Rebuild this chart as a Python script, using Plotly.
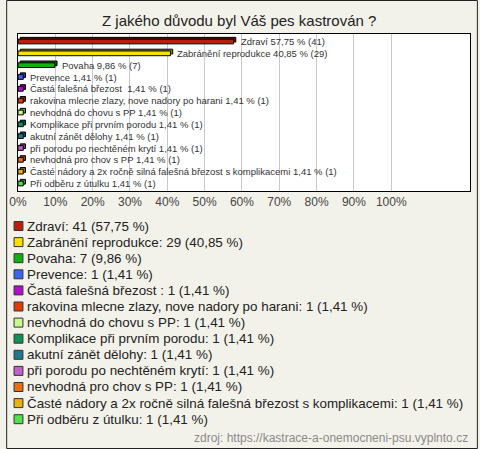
import plotly.graph_objects as go

title = "Z jakého důvodu byl Váš pes kastrován ?"
categories = [
    "Zdraví",
    "Zabránění reprodukce",
    "Povaha",
    "Prevence",
    "Častá falešná březost ",
    "rakovina mlecne zlazy, nove nadory po harani",
    "nevhodná do chovu s PP",
    "Komplikace při prvním porodu",
    "akutní zánět dělohy",
    "při porodu po nechtěném krytí",
    "nevhodná pro chov s PP",
    "Časté nádory a 2x ročně silná falešná březost s komplikacemi",
    "Při odběru z útulku",
]
counts = [41, 29, 7, 1, 1, 1, 1, 1, 1, 1, 1, 1, 1]
percents = [57.75, 40.85, 9.86, 1.41, 1.41, 1.41, 1.41, 1.41, 1.41, 1.41, 1.41, 1.41, 1.41]
colors = [
    "#b8200c", "#f8e000", "#10b010", "#3c64f0", "#b010c8", "#e03c08", "#c8f890",
    "#109058", "#207890", "#c060c8", "#e87010", "#e8b010", "#50e050",
]
tick_values = [0, 10, 20, 30, 40, 50, 60, 70, 80, 90, 100]
tick_labels = ["0%", "10%", "20%", "30%", "40%", "50%", "60%", "70%", "80%", "90%", "100%"]
source_text = "zdroj: https://kastrace-a-onemocneni-psu.vyplnto.cz"

def fmt(v):
    return f"{v:.2f}".replace(".", ",")

def darker(hexcol, k=0.6):
    r, g, b = (int(hexcol[i:i + 2], 16) for i in (1, 3, 5))
    return f"rgb({int(r * k)},{int(g * k)},{int(b * k)})"

bar_labels = [f"{c} {fmt(p)} % ({n})" for c, p, n in zip(categories, percents, counts)]
legend_labels = [f"{c}: {n} ({fmt(p)} %)" for c, p, n in zip(categories, percents, counts)]

W, H = 480, 449
L, R, T, B = 12, 9, 34, 258
pw, ph = W - L - R, H - T - B

def px_x(x):
    return (x - L) / pw

def px_y(y):
    return (H - B - y) / ph

BAR_W = 0.4
DEPTH_X = 0.6     # depth of the 3D look, in axis units (style)
DEPTH_Y = 0.15    # in category units (style)

fig = go.Figure()
# 3D "depth" behind each bar
fig.add_trace(go.Bar(
    x=percents, y=categories, orientation="h", base=DEPTH_X,
    marker=dict(color=[darker(c) for c in colors], line=dict(color="#000000", width=1)),
    width=BAR_W, offset=-BAR_W / 2 - DEPTH_Y,
    cliponaxis=False, hoverinfo="skip", showlegend=False,
))
fig.add_trace(go.Bar(
    x=percents, y=categories, orientation="h",
    marker=dict(color=colors, line=dict(color="#000000", width=1)),
    width=BAR_W, offset=-BAR_W / 2,
    cliponaxis=False, hoverinfo="skip", showlegend=False,
))
fig.update_layout(barmode="overlay")

shapes = []
annotations = []
# bar value labels
for c, p, lab in zip(categories, percents, bar_labels):
    annotations.append(dict(xref="x", yref="y", x=p, y=c, xanchor="left", yanchor="middle",
                            xshift=5, text=lab, showarrow=False,
                            font=dict(family="Liberation Sans, Arial", size=9.5, color="#333333")))
# outer frame
shapes.append(dict(type="rect", xref="paper", yref="paper",
                   x0=px_x(0.5), x1=px_x(478.5), y0=px_y(448.5), y1=px_y(0.5),
                   line=dict(color="#222222", width=1), fillcolor="rgba(0,0,0,0)", layer="below"))
# custom legend
for i, (lab, col) in enumerate(zip(legend_labels, colors)):
    cy = 226 + 16.1 * i
    shapes.append(dict(type="rect", xref="paper", yref="paper",
                       x0=px_x(8), x1=px_x(17), y0=px_y(cy + 4.5), y1=px_y(cy - 4.5),
                       line=dict(color="#333333", width=1), fillcolor=col))
    annotations.append(dict(xref="paper", yref="paper", x=px_x(19), y=px_y(cy),
                            xanchor="left", yanchor="middle", text=lab, showarrow=False,
                            font=dict(family="Liberation Sans, Arial", size=13.4, color="#222222")))
annotations.append(dict(xref="paper", yref="paper", x=px_x(471), y=px_y(438),
                        xanchor="right", yanchor="middle", text=source_text, showarrow=False,
                        font=dict(family="Liberation Sans, Arial", size=12, color="#8a8a8a")))
annotations.append(dict(xref="paper", yref="paper", x=px_x(236), y=px_y(20),
                        xanchor="center", yanchor="middle", text=title, showarrow=False,
                        font=dict(family="Liberation Sans, Arial", size=15, color="#222222")))

fig.update_layout(
    width=W, height=H,
    margin=dict(l=L, r=R, t=T, b=B, pad=0),
    paper_bgcolor="#f3f2ea", plot_bgcolor="#ffffff",
    shapes=shapes, annotations=annotations,
    xaxis=dict(range=[0, 121.1], tickmode="array", tickvals=tick_values, ticktext=tick_labels,
               showgrid=True, gridcolor="#c8c8c8", gridwidth=1, zeroline=False,
               showline=True, linecolor="#000000", linewidth=1, mirror=True,
               ticks="", ticklen=0,
               tickfont=dict(family="Liberation Sans, Arial", size=12, color="#444444"),
               fixedrange=True),
    yaxis=dict(categoryorder="array", categoryarray=categories, autorange="reversed",
               showticklabels=False, showgrid=False, zeroline=False,
               showline=True, linecolor="#000000", linewidth=1, mirror=True,
               ticks="", fixedrange=True),
)

fig.write_html("out.html", config={"displayModeBar": False},
               post_script="document.body.style.margin='0';document.body.style.padding='0';")
